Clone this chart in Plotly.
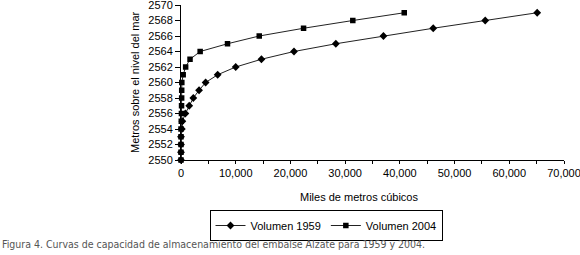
import plotly.graph_objects as go

niveles = list(range(2550, 2570))
vol_1959 = [0, 0, 0, 0, 150, 250, 800, 1500, 2250, 3300, 4500, 6700, 10000, 14700,
            20650, 28300, 37000, 46100, 55600, 65100]
vol_2004 = [0, 0, 0, 0, 0, 50, 80, 100, 120, 130, 150, 400, 850, 1650,
            3500, 8500, 14300, 22400, 31400, 40800]

W, H = 580, 255
L, R, T, B = 181, 16, 5, 95
pw, ph = W - L - R, H - T - B

def px_x(p):
    return (p - L) / pw

def px_y(p):
    return (H - B - p) / ph

font = "Liberation Sans"

fig = go.Figure()
fig.add_trace(go.Scatter(x=vol_1959, y=niveles, name="Volumen 1959", mode="lines+markers",
                         line=dict(color="#222222", width=1),
                         marker=dict(symbol="diamond", size=6, color="black"),
                         cliponaxis=False))
fig.add_trace(go.Scatter(x=vol_2004, y=niveles, name="Volumen 2004", mode="lines+markers",
                         line=dict(color="#222222", width=1),
                         marker=dict(symbol="square", size=5.5, color="black"),
                         cliponaxis=False))

fig.update_layout(
    width=W, height=H,
    margin=dict(l=L, r=R, t=T, b=B, autoexpand=False),
    paper_bgcolor="white", plot_bgcolor="white",
    font=dict(family=font, size=11, color="black"),
    xaxis=dict(range=[0, 70000], tickvals=list(range(0, 70001, 10000)), tickformat=",d",
               ticks="outside", ticklen=3, tickcolor="black", showgrid=False, zeroline=False,
               showline=True, linecolor="black", linewidth=1, automargin=False,
               ticklabeloverflow="allow",
               minor=dict(tickvals=list(range(5000, 70000, 10000)), ticks="outside", ticklen=3, tickcolor="black")),
    xaxis2=dict(range=[0, 70000], overlaying="x", anchor="y", side="bottom",
                tickvals=list(range(0, 70001, 5000)), ticks="inside", ticklen=3, tickcolor="black",
                showticklabels=False, showgrid=False, zeroline=False, showline=False),
    yaxis=dict(range=[2550, 2570], dtick=2, ticks="outside", ticklen=5, tickcolor="black",
               showgrid=False, zeroline=False, showline=True, linecolor="black", linewidth=1,
               automargin=False, ticklabeloverflow="allow"),
    showlegend=True,
    legend=dict(orientation="h", x=px_x(326), y=px_y(210), xanchor="center", yanchor="top",
                bordercolor="black", borderwidth=1, bgcolor="white",
                font=dict(size=11), itemwidth=30, tracegroupgap=0),
)

fig.add_annotation(text="Metros sobre el nivel del mar", xref="paper", yref="paper",
                   x=px_x(135), y=px_y(82), textangle=-90, showarrow=False,
                   xanchor="center", yanchor="middle", font=dict(size=11))
fig.add_annotation(text="Miles de metros cúbicos", xref="paper", yref="paper",
                   x=px_x(359), y=px_y(197), showarrow=False,
                   xanchor="center", yanchor="middle", font=dict(size=11))
fig.add_annotation(text="Figura 4. Curvas de capacidad de almacenamiento del embalse Alzate para 1959 y 2004.",
                   xref="paper", yref="paper", x=px_x(0), y=px_y(244), showarrow=False,
                   xanchor="left", yanchor="middle",
                   font=dict(size=10.5, color="#555555", family="DejaVu Sans Condensed"))

fig.write_html("out.html", post_script="document.body.style.margin='0';",
               config={"displayModeBar": False})
